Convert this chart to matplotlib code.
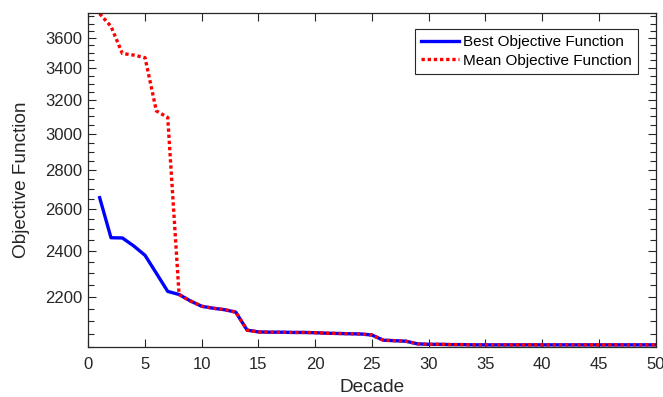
import numpy as np
import matplotlib
matplotlib.use('Agg')
import matplotlib.pyplot as plt
from matplotlib.ticker import FixedLocator, NullFormatter, FuncFormatter

plt.rcParams['font.family'] = ['Liberation Sans', 'DejaVu Sans']

# ── Data ──────────────────────────────────────────────────────────────────────
decade = np.arange(1, 51)

best_obj = np.array([
    2656, 2461, 2460, 2423, 2380, 2300, 2222, 2209, 2182, 2160,
    2152, 2146, 2136, 2064, 2057, 2056, 2056, 2055, 2055, 2054,
    2052, 2051, 2050, 2049, 2045, 2025, 2023, 2021, 2011, 2009,
    2009, 2008, 2008, 2007, 2007, 2007, 2007, 2007, 2007, 2007,
    2007, 2007, 2007, 2007, 2007, 2007, 2007, 2007, 2007, 2007,
])

mean_head = np.array([3770, 3680, 3495, 3484, 3467, 3133, 3094])
mean_obj = np.concatenate([mean_head, best_obj[len(mean_head):]])

yticks = [2200, 2400, 2600, 2800, 3000, 3200, 3400, 3600]
xticks = np.arange(0, 51, 5)

TXT = '#262626'

# ── Plot ──────────────────────────────────────────────────────────────────────
fig = plt.figure(figsize=(6.63, 3.97), dpi=100)
ax = fig.add_axes([0.1332, 0.1267, 0.8555, 0.8406])

ax.plot(decade, best_obj, color='blue', lw=2.4, label='Best Objective Function',
        solid_joinstyle='round')
ax.plot(decade, mean_obj, color='red', lw=2.4, linestyle=(0, (1.0, 0.85)),
        label='Mean Objective Function')

ax.set_yscale('log')
ax.set_xlim(0, 50)
ax.set_ylim(2000, 3775)

ax.xaxis.set_major_locator(FixedLocator(xticks))
ax.yaxis.set_major_locator(FixedLocator(yticks))
ax.yaxis.set_minor_locator(FixedLocator([v for v in range(2000, 3800, 50) if v not in yticks]))
ax.yaxis.set_major_formatter(FuncFormatter(lambda v, p: f'{int(round(v))}'))
ax.yaxis.set_minor_formatter(NullFormatter())
ax.xaxis.set_minor_locator(FixedLocator([]))

ax.tick_params(axis='both', which='both', direction='in', top=True, right=True,
               colors=TXT, labelsize=12, width=0.8)
ax.tick_params(axis='both', which='major', length=6)
ax.tick_params(axis='y', which='minor', length=4)
ax.tick_params(axis='y', which='major', pad=4.5)
ax.tick_params(axis='x', which='major', pad=7.5)
for sp in ax.spines.values():
    sp.set_color(TXT)
    sp.set_linewidth(0.9)

ax.set_xlabel('Decade', fontsize=13.7, color=TXT, labelpad=5)
ax.set_ylabel('Objective Function', fontsize=13.7, color=TXT, labelpad=11)

leg = ax.legend(loc='upper right', bbox_to_anchor=(0.9697, 0.952), borderaxespad=0,
                fontsize=11, frameon=True, fancybox=False, framealpha=1,
                edgecolor=TXT, handlelength=2.5, handletextpad=0.3,
                labelspacing=0.3, borderpad=0.4)
leg.get_frame().set_linewidth(0.8)
for t in leg.get_texts():
    t.set_color('black')

fig.savefig('out.png', dpi=100)
